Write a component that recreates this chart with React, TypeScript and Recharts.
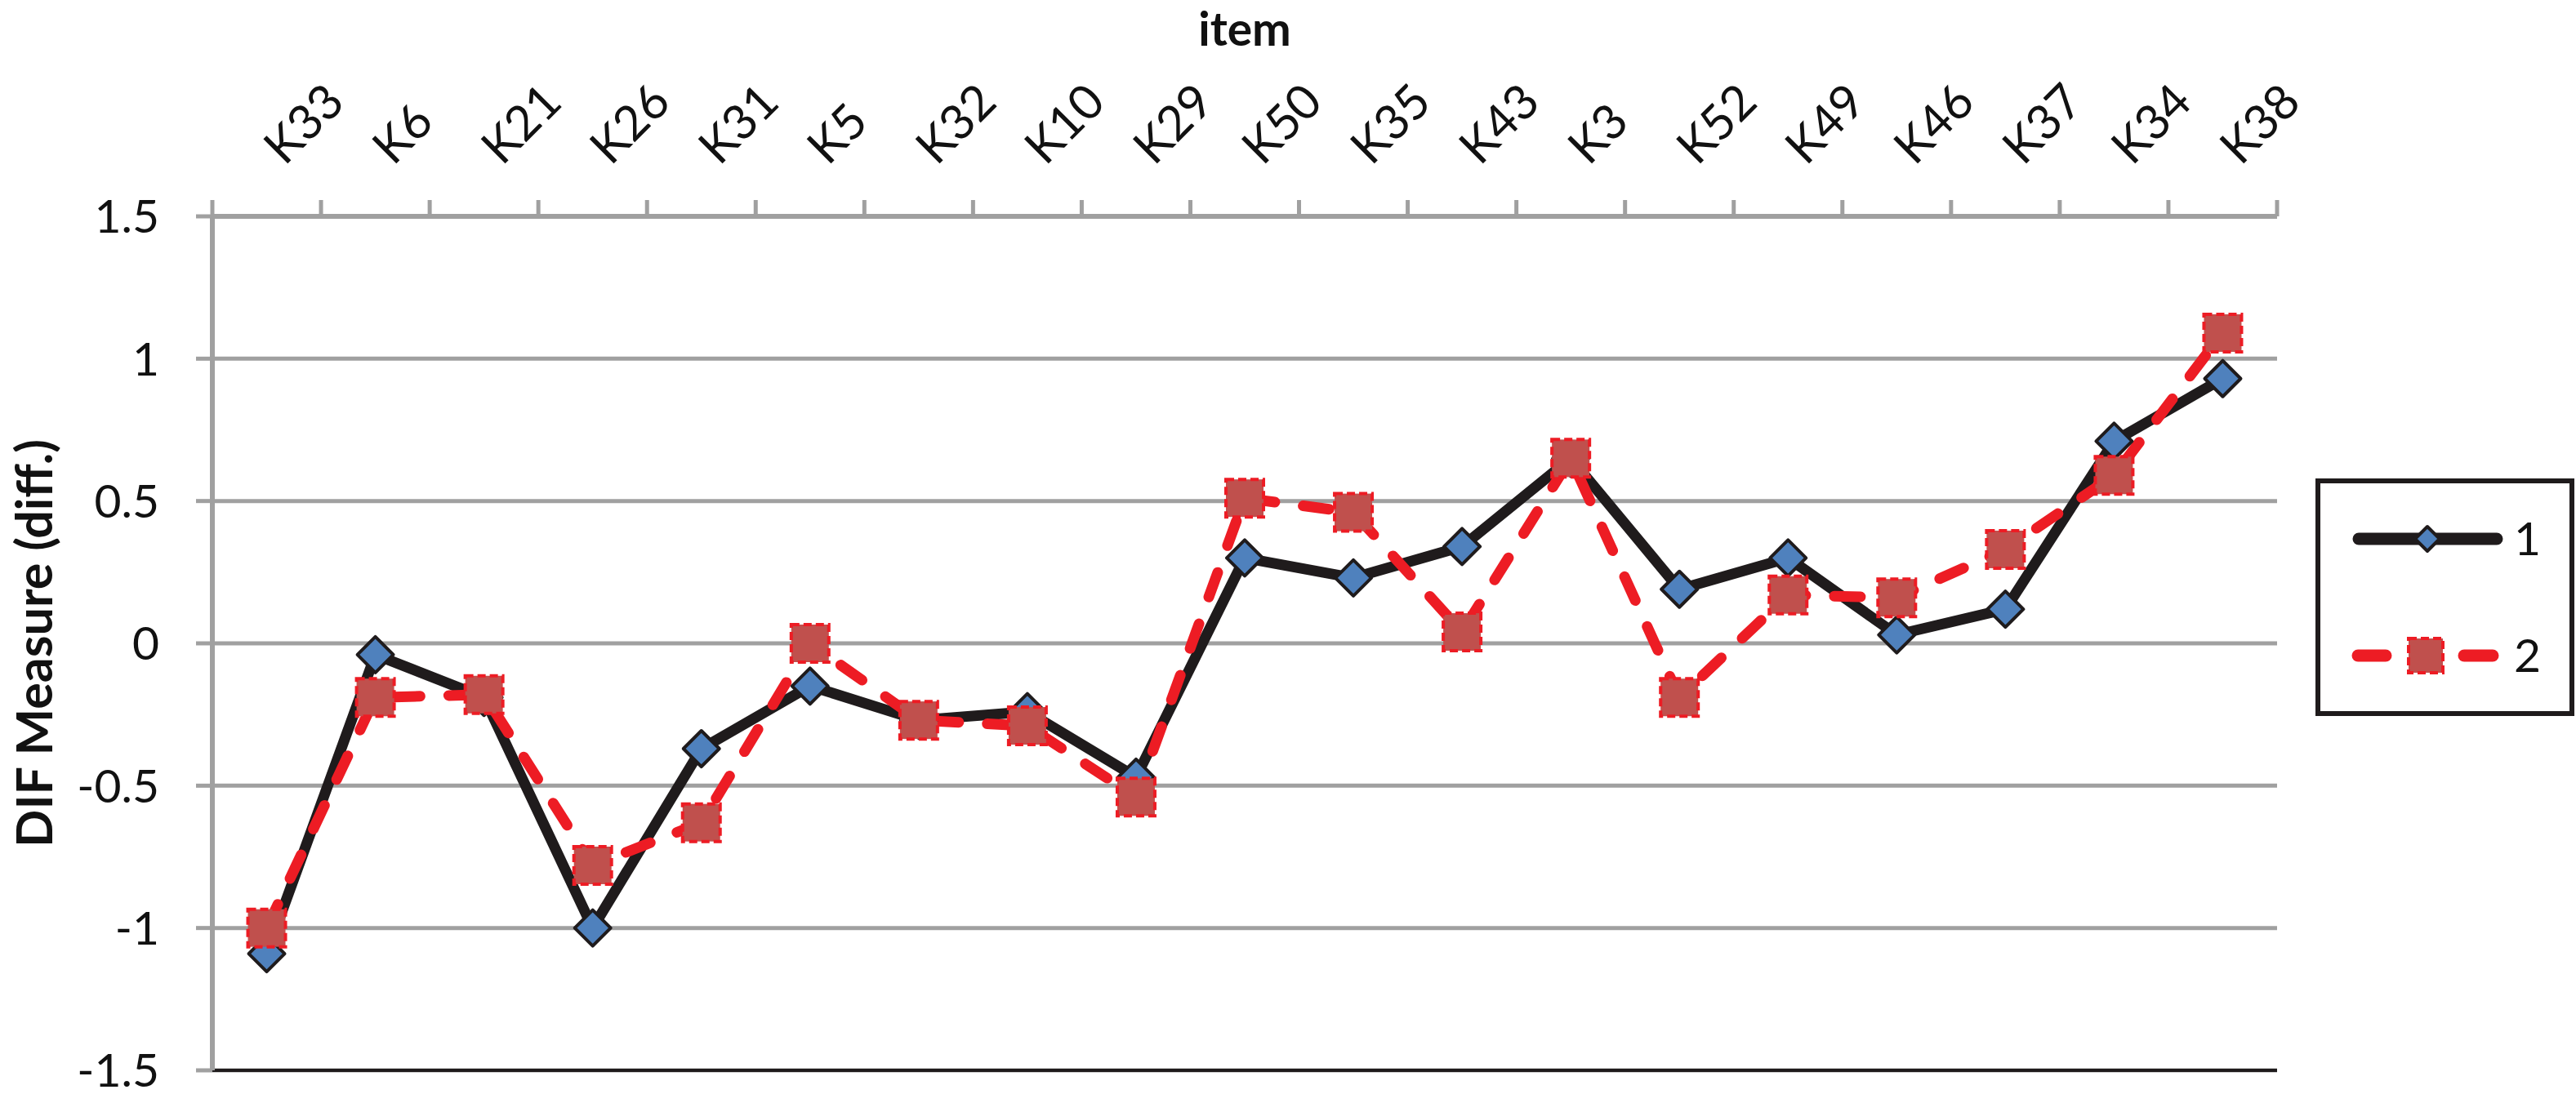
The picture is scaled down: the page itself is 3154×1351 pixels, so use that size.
import React from 'react';
import { LineChart, Line, XAxis, YAxis, CartesianGrid, ReferenceLine, Legend } from 'recharts';

const items = ['K33', 'K6', 'K21', 'K26', 'K31', 'K5', 'K32', 'K10', 'K29', 'K50', 'K35', 'K43', 'K3', 'K52', 'K49', 'K46', 'K37', 'K34', 'K38'];
const group1 = [-1.09, -0.04, -0.19, -1.0, -0.37, -0.15, -0.27, -0.24, -0.47, 0.3, 0.23, 0.34, 0.65, 0.19, 0.3, 0.03, 0.12, 0.71, 0.93];
const group2 = [-1.0, -0.19, -0.18, -0.78, -0.63, 0.0, -0.27, -0.29, -0.54, 0.51, 0.46, 0.04, 0.65, -0.19, 0.17, 0.16, 0.33, 0.59, 1.09];
const yTicks = [-1.5, -1, -0.5, 0, 0.5, 1, 1.5];
const seriesNames = ['1', '2'];
const xTitle = 'item';
const yTitle = 'DIF Measure (diff.)';

const data = items.map((item, i) => ({ item, g1: group1[i], g2: group2[i] }));

const W = 3154;
const H = 1351;
const PLOT_LEFT = 260;
const PLOT_TOP = 265;
const PLOT_RIGHT = 2788;
const PLOT_BOTTOM = 1311;
const HALF_BAND = (PLOT_RIGHT - PLOT_LEFT) / items.length / 2;

const GRAY = '#a0a0a0';
const BLACK = '#1f1b1c';
const BLUE = '#4f81bd';
const RED = '#ed1c24';
const SQUARE_FILL = '#c0504d';
const FONT = 'Lato, "Open Sans", sans-serif';
const FS = 57;
const XFS = 59;

function ItemTick(props: any) {
  const { x, y, payload, index } = props;
  const half = payload && typeof payload.offset === 'number' && payload.offset > 0 ? payload.offset : HALF_BAND;
  const last = index === items.length - 1;
  const ax = x + 22;
  const ay = y - 61;
  return (
    <g>
      <line x1={x - half} x2={x - half} y1={y} y2={y - 20} stroke={GRAY} strokeWidth={5} />
      {last && <line x1={x + half} x2={x + half} y1={y} y2={y - 20} stroke={GRAY} strokeWidth={5} />}
      <text
        x={ax}
        y={ay}
        transform={`rotate(-45 ${ax} ${ay})`}
        textAnchor="start"
        fontFamily={FONT}
        fontSize={XFS}
        fill="#111"
      >
        {payload.value}
      </text>
    </g>
  );
}

function Diamond(props: any) {
  const { cx, cy, index } = props;
  if (cx == null || cy == null) return null;
  const r = 22;
  return (
    <polygon
      key={`d-${index}`}
      points={`${cx},${cy - r} ${cx + r},${cy} ${cx},${cy + r} ${cx - r},${cy}`}
      fill={BLUE}
      stroke={BLACK}
      strokeWidth={4}
      strokeLinejoin="round"
    />
  );
}

function Square(props: any) {
  const { cx, cy, index } = props;
  if (cx == null || cy == null) return null;
  const h = 23;
  return (
    <rect
      key={`s-${index}`}
      x={cx - h}
      y={cy - h}
      width={2 * h}
      height={2 * h}
      fill={SQUARE_FILL}
      stroke={RED}
      strokeWidth={4}
      strokeDasharray="10 5"
    />
  );
}

function renderLegend(props: any) {
  const payload = props.payload || [];
  const rows = [68, 211];
  return (
    <div
      style={{
        position: 'absolute',
        left: 0,
        top: 0,
        width: 317,
        height: 291,
        boxSizing: 'border-box',
        border: `6px solid ${BLACK}`,
        background: '#fff',
      }}
    >
      <svg width={305} height={279} style={{ display: 'block' }}>
        {payload.map((entry: any, i: number) => {
          const y = rows[i] ?? rows[0] + i * 143;
          const name = entry.value;
          if (i === 0) {
            const r = 15;
            const cx = 131;
            return (
              <g key={`l-${i}`}>
                <line x1={47} x2={216} y1={y} y2={y} stroke={BLACK} strokeWidth={15} strokeLinecap="round" />
                <polygon
                  points={`${cx},${y - r} ${cx + r},${y} ${cx},${y + r} ${cx - r},${y}`}
                  fill={BLUE}
                  stroke={BLACK}
                  strokeWidth={4}
                  strokeLinejoin="round"
                />
                <text x={237} y={y} dy="0.355em" fontFamily={FONT} fontSize={FS} fill="#111">
                  {name}
                </text>
              </g>
            );
          }
          const cx = 129;
          const h = 21;
          return (
            <g key={`l-${i}`}>
              <line x1={46} x2={80} y1={y} y2={y} stroke={RED} strokeWidth={15} strokeLinecap="round" />
              <line x1={176} x2={211} y1={y} y2={y} stroke={RED} strokeWidth={15} strokeLinecap="round" />
              <rect
                x={cx - h}
                y={y - h}
                width={2 * h}
                height={2 * h}
                fill={SQUARE_FILL}
                stroke={RED}
                strokeWidth={4}
                strokeDasharray="10 5"
              />
              <text x={237} y={y} dy="0.355em" fontFamily={FONT} fontSize={FS} fill="#111">
                {name}
              </text>
            </g>
          );
        })}
      </svg>
    </div>
  );
}

export default function App() {
  return (
    <div style={{ position: 'absolute', left: 0, top: 0, width: W, height: H, background: '#fff' }}>
      <LineChart
        width={W}
        height={H}
        data={data}
        margin={{ top: 0, right: W - PLOT_RIGHT, bottom: H - PLOT_BOTTOM, left: 0 }}
      >
        <CartesianGrid horizontal vertical={false} stroke={GRAY} strokeWidth={5} />
        <XAxis
          dataKey="item"
          orientation="top"
          scale="band"
          height={PLOT_TOP}
          interval={0}
          tickSize={0}
          tickMargin={0}
          tickLine={false}
          axisLine={{ stroke: GRAY, strokeWidth: 6 }}
          tick={<ItemTick />}
          label={{
            content: (p: any) => {
              const vb = p.viewBox || { x: PLOT_LEFT, width: PLOT_RIGHT - PLOT_LEFT };
              return (
                <text
                  x={vb.x + vb.width / 2}
                  y={56}
                  textAnchor="middle"
                  fontFamily={FONT}
                  fontWeight={700}
                  fontSize={57}
                  fill="#111"
                >
                  {xTitle}
                </text>
              );
            },
          }}
        />
        <YAxis
          type="number"
          domain={[-1.5, 1.5]}
          ticks={yTicks}
          interval={0}
          width={PLOT_LEFT}
          tickSize={20}
          tickMargin={45}
          tickLine={{ stroke: GRAY, strokeWidth: 5 }}
          axisLine={{ stroke: GRAY, strokeWidth: 6 }}
          tickFormatter={(v: number) => String(v)}
          tick={{ fontFamily: FONT, fontSize: FS, fill: '#111' }}
          label={{
            content: (p: any) => {
              const vb = p.viewBox || { y: PLOT_TOP, height: PLOT_BOTTOM - PLOT_TOP };
              const cx = 64;
              const cy = vb.y + vb.height / 2;
              return (
                <text
                  x={cx}
                  y={cy}
                  transform={`rotate(-90 ${cx} ${cy})`}
                  textAnchor="middle"
                  fontFamily={FONT}
                  fontWeight={700}
                  fontSize={61}
                  fill="#111"
                >
                  {yTitle}
                </text>
              );
            },
          }}
        />
        <YAxis
          yAxisId="border"
          orientation="right"
          type="number"
          domain={[-1.5, 1.5]}
          width={0}
          tick={false}
          tickLine={false}
          axisLine={{ stroke: BLACK, strokeWidth: 4 }}
        />
        <ReferenceLine y={-1.5} stroke={BLACK} strokeWidth={4} />
        <Legend
          wrapperStyle={{ position: 'absolute', left: 2835, top: 586, width: 0, height: 0, overflow: 'visible' }}
          content={renderLegend}
        />
        <Line
          name={seriesNames[0]}
          dataKey="g1"
          stroke={BLACK}
          strokeWidth={13}
          strokeLinejoin="round"
          dot={<Diamond />}
          activeDot={false}
          isAnimationActive={false}
        />
        <Line
          name={seriesNames[1]}
          dataKey="g2"
          stroke={RED}
          strokeWidth={13}
          strokeDasharray="32 35"
          strokeLinecap="round"
          strokeLinejoin="round"
          dot={<Square />}
          activeDot={false}
          isAnimationActive={false}
        />
      </LineChart>
    </div>
  );
}
